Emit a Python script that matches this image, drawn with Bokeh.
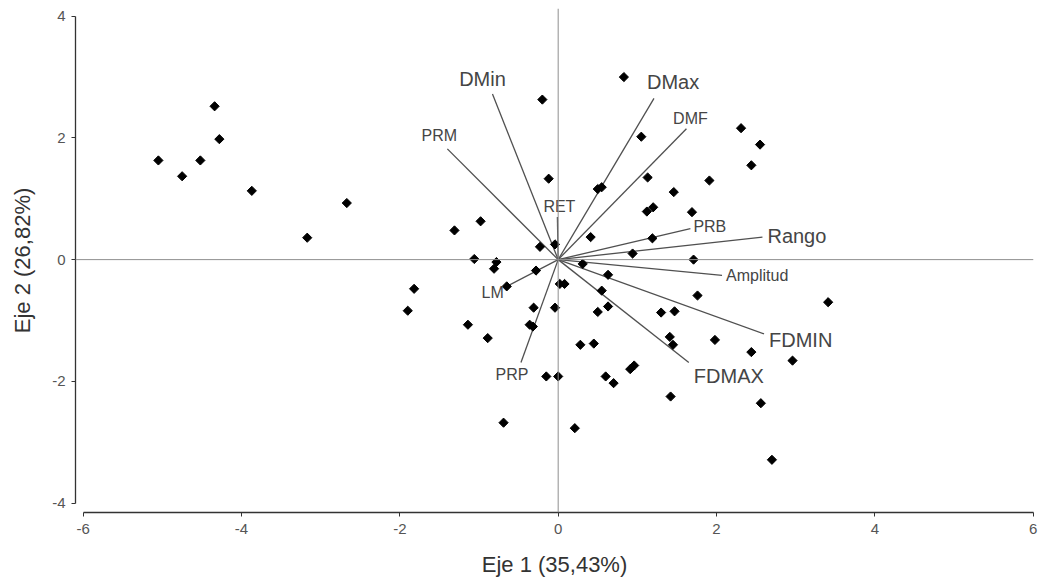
import math
from bokeh.plotting import figure
from bokeh.models import Range1d, Span, FixedTicker
from bokeh.embed import file_html
from bokeh.resources import INLINE
from bokeh.core.properties import value

# ---- data ----
obs_x = [-5.05, -4.75, -4.52, -4.34, -4.28, -3.87, -3.17, -2.67, -1.31, -0.98,
         -0.20, -0.12, 0.83, 1.05, 0.50, 0.55, 1.13, 1.46, 1.12, 1.20,
         1.69, 1.91, 2.31, 2.55, 2.44, -0.23, -0.04, 0.41, 1.19, 0.94,
         1.71, -1.06, -0.78, -0.81, -0.28, 0.31, 0.63, -0.65, 0.02, 0.08,
         0.55, 1.76, 3.41, -1.82, -1.90, -0.31, -0.04, 0.50, 0.63, 1.30,
         1.47, -1.14, -0.36, -0.32, -0.89, 0.28, 0.45, 1.41, 1.45, 1.98,
         2.44, 2.96, 0.91, 0.96, -0.15, 0.00, 0.60, 0.70, 1.42, 2.56,
         -0.69, 0.21, 2.70]
obs_y = [1.63, 1.37, 1.63, 2.52, 1.98, 1.13, 0.36, 0.93, 0.48, 0.63,
         2.63, 1.33, 3.00, 2.02, 1.16, 1.19, 1.35, 1.11, 0.79, 0.86,
         0.78, 1.30, 2.16, 1.89, 1.55, 0.21, 0.25, 0.37, 0.35, 0.10,
         0.00, 0.01, -0.04, -0.15, -0.18, -0.07, -0.25, -0.44, -0.40, -0.40,
         -0.51, -0.59, -0.70, -0.48, -0.84, -0.79, -0.79, -0.86, -0.77, -0.87,
         -0.85, -1.07, -1.07, -1.10, -1.29, -1.40, -1.38, -1.27, -1.40, -1.32,
         -1.52, -1.66, -1.80, -1.74, -1.92, -1.92, -1.92, -2.03, -2.25, -2.36,
         -2.68, -2.77, -3.29]

var_names = ["DMin", "PRM", "DMax", "DMF", "PRB", "Rango", "Amplitud",
             "FDMIN", "FDMAX", "LM", "PRP", "RET"]
var_x = [-0.83, -1.40, 1.21, 1.62, 1.67, 2.58, 2.07, 2.60, 1.65, -0.65, -0.47, -0.01]
var_y = [2.72, 1.82, 2.65, 2.15, 0.51, 0.37, -0.26, -1.22, -1.69, -0.44, -1.69, 0.70]

x_ticks = [-6, -4, -2, 0, 2, 4, 6]
y_ticks = [-4, -2, 0, 2, 4]
x_title = "Eje 1 (35,43%)"
y_title = "Eje 2 (26,82%)"

# ---- label styling (size group, alignment, pixel offsets) ----
label_style = {
    "DMin": ("big", "center", -10, -15),
    "PRM": ("small", "center", -8, -13),
    "DMax": ("big", "left", -7, -16),
    "DMF": ("small", "center", 4, -10),
    "PRB": ("small", "left", 3, -2),
    "Rango": ("big", "left", 5, -1),
    "Amplitud": ("small", "left", 4, 0),
    "FDMIN": ("big", "left", 5, 6),
    "FDMAX": ("big", "left", 5, 14),
    "LM": ("small", "right", -3, 6),
    "PRP": ("small", "center", -9, 12),
    "RET": ("small", "center", 2, -11),
}
sizes = {"big": "20px", "small": "16px"}

FONT = "Liberation Sans"

p = figure(width=1041, height=582, output_backend="svg", toolbar_location=None,
           x_range=Range1d(-6.097, 6.004), y_range=Range1d(-4.156, 4.127),
           min_border_left=75, min_border_right=8, min_border_top=8,
           min_border_bottom=70)
p.outline_line_color = None
p.xgrid.visible = False
p.ygrid.visible = False
p.background_fill_color = "white"

# reference lines through origin
p.add_layout(Span(location=0, dimension="width", line_color="#8f8f8f", line_width=1))
p.add_layout(Span(location=0, dimension="height", line_color="#8f8f8f", line_width=1))

# variable vectors
p.segment(x0=0, y0=0, x1=var_x, y1=var_y, line_color="#505050", line_width=1.3)

# observations
p.scatter(obs_x, obs_y, marker="square", angle=math.pi / 4, size=6.5, color="black")

# vector labels
for name, vx, vy in zip(var_names, var_x, var_y):
    grp, align, dx, dy = label_style[name]
    p.text(x=[vx], y=[vy], text=[name], text_font=value(FONT),
           text_font_size=sizes[grp], text_color="#454545",
           text_align=align, text_baseline="middle",
           x_offset=dx, y_offset=dy)

for ax, ticks, bounds in ((p.xaxis, x_ticks, (-6, 6)), (p.yaxis, y_ticks, (-4, 4))):
    ax.ticker = FixedTicker(ticks=ticks)
    ax.major_label_overrides = {t: str(t) for t in ticks}
    ax.bounds = bounds
    ax.axis_line_color = "#333333"
    ax.axis_line_width = 1.3
    ax.major_tick_line_color = "#333333"
    ax.major_tick_out = 4
    ax.major_tick_in = 0
    ax.minor_tick_line_color = None
    ax.major_label_text_font = FONT
    ax.major_label_text_font_size = "15px"
    ax.major_label_text_color = "#555555"
    ax.axis_label_text_font = FONT
    ax.axis_label_text_font_size = "22px"
    ax.axis_label_text_font_style = "normal"
    ax.axis_label_text_color = "#333333"

p.xaxis.axis_label = x_title
p.yaxis.axis_label = y_title
p.xaxis.major_label_standoff = 7
p.xaxis.axis_label_standoff = 15
p.yaxis.major_label_standoff = 6
p.yaxis.axis_label_standoff = 14

open("out.html", "w").write(file_html(p, INLINE))
